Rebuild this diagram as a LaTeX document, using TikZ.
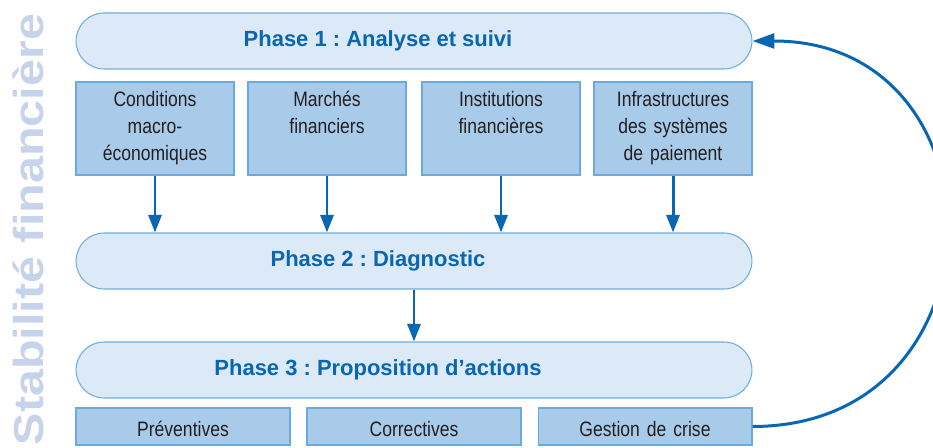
\documentclass[tikz,border=0pt]{standalone}
\usepackage{fontspec}
\setmainfont{Liberation Sans}
\newfontfamily\narrowfont[FakeStretch=0.84]{Liberation Sans}
\newfontfamily\widefont[FakeStretch=1.16]{Liberation Sans}
\usepackage{tikz}
\usetikzlibrary{arrows.meta}
\frenchspacing
\definecolor{phasefill}{HTML}{DCE9F6}
\definecolor{phaseline}{HTML}{6EADE0}
\definecolor{blkfill}{HTML}{A9CBEA}
\definecolor{blkline}{HTML}{6AAADF}
\definecolor{flowblue}{HTML}{0866B2}
\definecolor{titlegray}{HTML}{C7D3EA}
\definecolor{txtgray}{HTML}{231F20}
\tikzstyle{phase}=[rectangle, draw=phaseline, fill=phasefill, line width=0.6pt,% pill shaped bar
rounded corners=0.56cm, minimum width=13.52cm, minimum height=1.12cm]
\tikzstyle{phasetxt}=[font=\bfseries\fontsize{12.5}{15}\selectfont, text=flowblue]
\tikzstyle{blk}=[rectangle, draw=blkline, fill=blkfill, line width=0.6pt, inner sep=1pt,
minimum width=3.16cm, minimum height=1.86cm, text width=3cm, align=center,
font=\narrowfont\fontsize{11.9}{15.3}\selectfont, text=txtgray,
execute at begin node=\strut, execute at end node=\strut]
\tikzstyle{actblk}=[blk, minimum width=4.28cm, minimum height=0.74cm, text height=0.42cm, text depth=0pt]
\tikzstyle{flow}=[-{Triangle[length=10pt,width=7.4pt]}, draw=flowblue, line width=1.7pt]
\tikzstyle{back}=[-{Triangle[length=12.5pt,width=8.5pt]}, draw=flowblue, line width=1.7pt]

\begin{document}
\begin{tikzpicture}[x=0.02cm,y=-0.02cm]
\useasboundingbox (0,0) rectangle (933,448);
\node[rotate=90, anchor=base, text=titlegray, font=\widefont\bfseries\fontsize{23.8}{28}\selectfont] (st) at (43,229.5) {Stabilité financière};
% the three phases
\node[phase, label={[phasetxt,xshift=-0.72cm]center:Phase 1 : Analyse et suivi}] (p1) at (414,41) {};
\node[phase, label={[phasetxt,xshift=-0.72cm]center:Phase 2 : Diagnostic}] (p2) at (414,261) {};
\node[phase, label={[phasetxt,xshift=-0.72cm]center:Phase 3 : Proposition d’actions}] (p3) at (414,370) {};
% what is watched (empty third line keeps the text at the top)
\node[blk] (c1) at (155,128.5) {Conditions\\macro-\\économiques};
\node[blk] (c2) at (327,128.5) {Marchés\\financiers\\~};
\node[blk] (c3) at (501,128.5) {Institutions\\financières\\~};
\node[blk] (c4) at (673,128.5) {Infrastructures\\des systèmes\\de paiement};
% actions
\node[actblk] (a1) at (183,426.5) {Préventives};
\node[actblk] (a2) at (414,426.5) {Correctives};
\node[actblk] (a3) at (645,426.5) {Gestion de crise};
\foreach \c in {c1,c2,c3,c4}
  \draw[flow] (\c) -- (\c |- p2.north);
\draw[flow] (p2) -- (p3);
\draw[back] (a3.east) .. controls +(257,0) and +(257,0) .. (p1.east);
\end{tikzpicture}
\end{document}
